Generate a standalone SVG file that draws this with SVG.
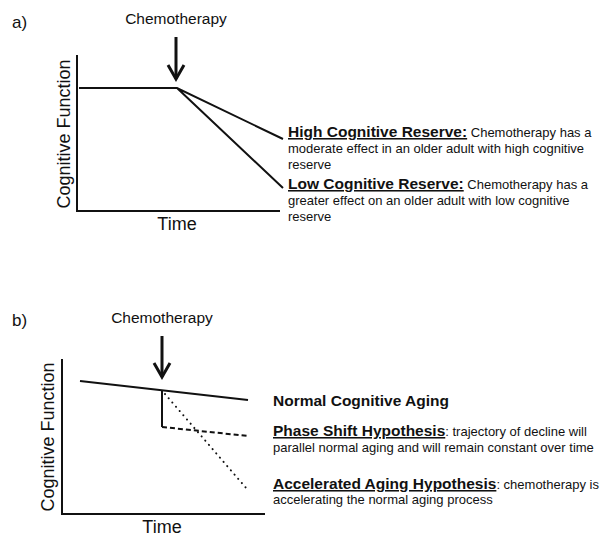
<svg xmlns="http://www.w3.org/2000/svg" width="609" height="546" viewBox="0 0 609 546">
<style>
text{font-family:"Liberation Sans",Arial,Helvetica,sans-serif;fill:#111}
.lbl{font-size:17px}
.ax{font-size:18px}
.chemo{font-size:15.5px}
.b{font-size:15.5px;font-weight:bold}
.u{text-decoration:underline}
.n{font-size:13px;font-weight:normal}
.ln{stroke:#111;stroke-width:2;fill:none}
.axis{stroke:#111;stroke-width:2;fill:none}
.arr{stroke:#111;stroke-width:3;fill:none}
</style>
<defs>
<marker id="arrow" viewBox="0 0 20 20" refX="17" refY="10" markerWidth="20" markerHeight="20" markerUnits="userSpaceOnUse" orient="auto">
<path d="M3,2 L17,10 L3,18" fill="none" stroke="#111" stroke-width="3"/>
</marker>
</defs>
<rect width="609" height="546" fill="#fff"/>
<g id="panel-a">
<text class="lbl" x="12" y="28">a)</text>
<text class="chemo" x="176" y="24" text-anchor="middle">Chemotherapy</text>
<text class="ax" transform="translate(70,134) rotate(-90)" text-anchor="middle">Cognitive Function</text>
<text class="ax" x="177" y="230" text-anchor="middle">Time</text>
</g>
<g id="label-high">
<text x="288" y="137"><tspan class="b u">High Cognitive Reserve:</tspan><tspan class="n"> Chemotherapy has a</tspan></text>
<text class="n" x="288" y="153">moderate effect in an older adult with high cognitive</text>
<text class="n" x="288" y="169">reserve</text>
</g>
<g id="label-low">
<text x="288" y="189"><tspan class="b u">Low Cognitive Reserve:</tspan><tspan class="n"> Chemotherapy has a</tspan></text>
<text class="n" x="288" y="205">greater effect on an older adult with low cognitive</text>
<text class="n" x="288" y="221">reserve</text>
</g>
<g id="panel-b">
<text class="lbl" x="12" y="326">b)</text>
<text class="chemo" x="162" y="323" text-anchor="middle">Chemotherapy</text>
<text class="ax" transform="translate(54,437) rotate(-90)" text-anchor="middle">Cognitive Function</text>
<text class="ax" x="162" y="533" text-anchor="middle">Time</text>
</g>
<g id="label-normal">
<text class="b" x="273" y="406">Normal Cognitive Aging</text>
</g>
<g id="label-phase">
<text x="273" y="436"><tspan class="b u">Phase Shift Hypothesis</tspan><tspan class="n">: trajectory of decline will</tspan></text>
<text class="n" x="273" y="452">parallel normal aging and will remain constant over time</text>
</g>
<g id="label-accel">
<text x="273" y="489"><tspan class="b u">Accelerated Aging Hypothesis</tspan><tspan class="n">: chemotherapy is</tspan></text>
<text class="n" x="273" y="504">accelerating the normal aging process</text>
</g>
<g id="connectors">
<path class="axis" d="M77,55 V211 H280"/>
<line class="arr" x1="176" y1="37" x2="176" y2="79" marker-end="url(#arrow)"/>
<path class="ln" d="M79,88 H177 L283,139 M177,88 L283,188"/>
<path class="axis" d="M62,359 V514 H265"/>
<line class="arr" x1="162" y1="336" x2="162" y2="377" marker-end="url(#arrow)"/>
<line class="ln" x1="80" y1="381" x2="248" y2="400"/>
<path class="ln" d="M162,390 V427"/>
<line class="ln" x1="162" y1="427" x2="248" y2="436" stroke-dasharray="5,3"/>
<line class="ln" x1="165" y1="394" x2="247" y2="489" stroke-dasharray="0.1,5.5" stroke-linecap="round"/>
</g>
</svg>
